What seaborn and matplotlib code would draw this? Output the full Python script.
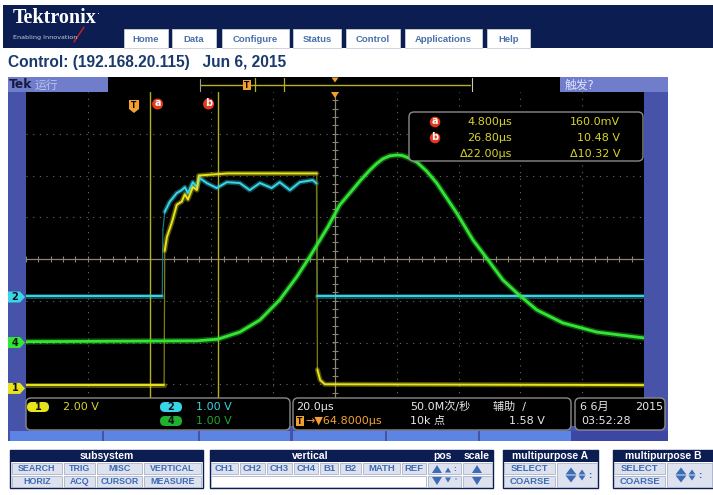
import numpy as np
import pandas as pd
import matplotlib
matplotlib.use("Agg")
import matplotlib.pyplot as plt
import seaborn as sns
from matplotlib.patches import Rectangle, FancyBboxPatch, Polygon

# ---------------- data (time in µs, voltage in V) ----------------
ch1_t = [-35.2, 9.5, 9.7, 10.4, 12.0, 13.6, 15.2, 16.2, 17.2, 18.8, 20.1, 20.7,
         30.0, 45.0, 58.9, 59.1, 60.0, 61.5, 164.8]
ch1_v = [0.16, 0.16, 6.6, 7.25, 7.95, 8.8, 8.95, 9.3, 9.05, 9.65, 9.5, 10.2,
         10.3, 10.3, 10.3, 0.9, 0.4, 0.2, 0.16]

ch2_t = [-35.2, 8.9, 9.1, 9.7, 11.3, 12.3, 13.6, 15.2, 16.2, 17.2, 18.8, 20.1,
         21.0, 23.3, 26.5, 29.8, 34.0, 37.2, 40.5, 44.3, 46.9, 50.2, 53.4, 57.6,
         58.8, 59.0, 164.8]
ch2_v = [0.02, 0.02, 1.6, 2.04, 2.28, 2.37, 2.49, 2.56, 2.63, 2.49, 2.75, 2.63,
         2.85, 2.73, 2.61, 2.75, 2.73, 2.56, 2.73, 2.61, 2.75, 2.56, 2.75, 2.80,
         2.72, 0.02, 0.02]

ch4_t = [-35.2, 20.0, 26.9, 34.0, 40.5, 46.9, 52.4, 56.6, 62.5, 66.3, 69.6, 73.0,
         76.1, 78.2, 80.3, 82.5, 84.8, 86.5, 88.0, 91.3, 94.5, 97.7, 104.2, 109.4,
         113.9, 119.1, 123.6, 130.1, 138.5, 149.5, 157.0, 164.8]
ch4_v = [0.02, 0.04, 0.08, 0.25, 0.54, 1.02, 1.57, 2.05, 2.77, 3.29, 3.58, 3.88,
         4.13, 4.28, 4.40, 4.47, 4.49, 4.48, 4.44, 4.32, 4.10, 3.82, 3.10, 2.46,
         2.02, 1.50, 1.19, 0.78, 0.47, 0.25, 0.18, 0.11]

ch_names = ["1", "2", "4"]
ch_scale_labels = ["2.00 V", "1.00 V", "1.00 V"]
ch_scale = [2.0, 1.0, 1.0]          # V/div
ch_offset = [-3.1, -0.91, -2.0]     # ground position in divisions

cursor_t = [4.8, 26.8]
cursor_rows = [("a", "4.800µs", "160.0mV"), ("b", "26.80µs", "10.48 V"),
               ("", "Δ22.00µs", "Δ10.32 V")]
time_per_div = 20.0
h_delay = 64.8

nav_tabs = ["Home", "Data", "Configure", "Status", "Control", "Applications", "Help"]
subsystem_row1 = ["SEARCH", "TRIG", "MISC", "VERTICAL"]
subsystem_row2 = ["HORIZ", "ACQ", "CURSOR", "MEASURE"]
vertical_btns = ["CH1", "CH2", "CH3", "CH4", "B1", "B2", "MATH", "REF"]

# ---------------- style ----------------
sns.set_style("dark")
plt.rcParams['font.family'] = ['DejaVu Sans', 'Noto Sans CJK SC']

W, H = 713, 495
fig = plt.figure(figsize=(W / 100, H / 100), dpi=100)
fig.patch.set_facecolor("white")

bg = fig.add_axes([0, 0, 1, 1], zorder=1)
bg.set_xlim(0, W); bg.set_ylim(H, 0); bg.axis("off")

NAVY = "#0c1d52"
FRAME = "#4753a8"
LIGHT = "#6f7dcb"
YEL = "#e8e41c"
CYA = "#38d6e8"
GRN = "#34e634"
ORG = "#f2a030"
RED = "#e5391b"
TY = "#d8d42a"


def rect(ax, x0, y0, x1, y1, fc, ec="none", lw=0, z=1):
    ax.add_patch(Rectangle((x0, y0), x1 - x0, y1 - y0, fc=fc, ec=ec, lw=lw, zorder=z))


def rbox(ax, x0, y0, x1, y1, fc, ec, r=4, lw=1.0, z=2):
    ax.add_patch(FancyBboxPatch((x0, y0), x1 - x0, y1 - y0,
                                boxstyle=f"round,pad=0,rounding_size={r}",
                                fc=fc, ec=ec, lw=lw, zorder=z))


def txt(ax, x, y, s, size, color, ha="left", va="center", weight="normal", z=5, family=None):
    kw = {}
    if family:
        kw["family"] = family
    ax.text(x, y, s, fontsize=size, color=color, ha=ha, va=va,
            fontweight=weight, zorder=z, **kw)


def tri(ax, cx, cy, w, h, up, color, z=5):
    if up:
        pts = [(cx - w / 2, cy + h / 2), (cx + w / 2, cy + h / 2), (cx, cy - h / 2)]
    else:
        pts = [(cx - w / 2, cy - h / 2), (cx + w / 2, cy - h / 2), (cx, cy + h / 2)]
    ax.add_patch(Polygon(pts, closed=True, fc=color, ec="none", zorder=z))


# ---------------- web page header ----------------
rect(bg, 3, 5, W, 48, NAVY)
txt(bg, 13, 18, "Tektronix", 14.5, "white", weight="bold",
    family=["Liberation Serif", "DejaVu Serif"])
txt(bg, 97, 14, "·", 7, "white")
txt(bg, 13, 38, "Enabling Innovation", 4.6, "#c8cde0")
bg.plot([74, 84], [42, 27], color="#d02020", lw=1.0, zorder=4)

tab_x = [(124, 168), (172, 216), (222, 289), (293, 341), (346, 400), (405, 482), (487, 530)]
for (x0, x1), lab in zip(tab_x, nav_tabs):
    rect(bg, x0, 29, x1, 48, "white", ec="#c8ccd8", lw=0.6, z=2)
    txt(bg, (x0 + x1) / 2, 39.5, lab, 6.8, "#4a70aa", ha="center", weight="bold",
        family=["Liberation Sans", "DejaVu Sans"])

txt(bg, 8, 62, "Control: (192.168.20.115)   Jun 6, 2015", 11.2, "#1a3a6c",
    weight="bold", family=["Liberation Sans", "DejaVu Sans"])

# ---------------- scope frame ----------------
rect(bg, 8, 77, 668, 441, FRAME)
rect(bg, 8, 77, 108, 92, LIGHT, z=2)
txt(bg, 9, 85, "Tek", 8.8, "#161a40", weight="bold", z=6)
txt(bg, 35, 85, "运行", 8.5, "#b9c2f0", z=6)
rect(bg, 108, 77, 560, 92, "black", z=2)
rect(bg, 560, 77, 668, 92, LIGHT, z=2)
txt(bg, 565, 85, "触发?", 8.5, "#dde2ff", z=6)
# record view
bg.plot([200, 470], [85, 85], color="#b8b020", lw=1.0, zorder=4)
for xv in [255, 284]:
    bg.plot([xv, xv], [78, 92], color="#b8b020", lw=0.9, zorder=4)
bg.plot([200, 200], [79, 92], color="#9a9a9a", lw=0.8, zorder=4)
bg.plot([472, 472], [78, 92], color="#c8c8c8", lw=0.8, zorder=4)
rect(bg, 243, 80, 251, 90, ORG, z=5)
txt(bg, 247, 85, "T", 5.5, "black", ha="center", weight="bold", z=6)
tri(bg, 335, 80, 7, 5, False, ORG)

# bottom tab strip
for x0, x1 in [(10, 102), (104, 198), (200, 290), (293, 385), (387, 478), (480, 571)]:
    rect(bg, x0, 431, x1, 441, "#5b84e4", z=2)
rect(bg, 571, 431, 668, 441, "#3b47a2", z=2)

# ---------------- graticule axes ----------------
ax = fig.add_axes([26 / W, 1 - 426 / H, 618 / W, 334 / H], zorder=2)
ax.set_facecolor("black")
for sp in ax.spines.values():
    sp.set_visible(False)
ax.set_xticks([]); ax.set_yticks([])
x_left = h_delay - 5 * time_per_div
x_right = h_delay + 5 * time_per_div
ax.set_xlim(x_left, x_right)
ax.set_ylim(-4, 4)

for k in range(1, 10):
    if k != 5:
        ax.axvline(x_left + time_per_div * k, color="#6a6a6a", lw=0.8, ls=(0, (1.0, 5)), zorder=1)
for j in range(-3, 4):
    if j != 0:
        ax.axhline(j, color="#6a6a6a", lw=0.8, ls=(0, (1.0, 5)), zorder=1)
ax.axhline(0, color="#8e8674", lw=0.9, zorder=1)
ax.axvline(h_delay, color="#8e8674", lw=0.9, zorder=1)
minor_x = np.arange(x_left, x_right + 0.01, time_per_div / 5)
ax.vlines(minor_x, -0.07, 0.07, color="#8e8674", lw=0.8, zorder=1)
minor_y = np.arange(-4, 4.01, 0.2)
ax.hlines(minor_y, h_delay - 1.0, h_delay + 1.0, color="#8e8674", lw=0.8, zorder=1)

for ct in cursor_t:
    ax.axvline(ct, color="#b5ae1e", lw=1.0, zorder=2)

px_per_us = 618 / (x_right - x_left)
px_per_div = 334 / 8.0


def dim(col, f=0.55):
    c = np.array(matplotlib.colors.to_rgb(col))
    return tuple(c * f)


traces = [(ch2_t, ch2_v, 1, CYA, 1.4), (ch1_t, ch1_v, 0, YEL, 1.4), (ch4_t, ch4_v, 2, GRN, 2.0)]
for tt, vv, idx, col, lw in traces:
    df = pd.DataFrame({"t": tt, "div": np.array(vv) / ch_scale[idx] + ch_offset[idx]})
    # split into slow (noisy, bright) pieces and fast edges (dim, thin)
    dx = np.diff(df["t"].values) * px_per_us
    dy = np.abs(np.diff(df["div"].values)) * px_per_div
    steep = dy > 8 * np.maximum(dx, 1e-6)
    start = 0
    pieces = []
    for i, s in enumerate(steep):
        if s:
            if i > start:
                pieces.append(("slow", start, i))
            pieces.append(("edge", i, i + 1))
            start = i + 1
    if start < len(df) - 1:
        pieces.append(("slow", start, len(df) - 1))
    for kind, a, b in pieces:
        seg = df.iloc[a:b + 1]
        if kind == "slow":
            sns.lineplot(data=seg, x="t", y="div", ax=ax, color=col, lw=lw + 2.2, alpha=0.35,
                         sort=False, estimator=None, zorder=3)
            sns.lineplot(data=seg, x="t", y="div", ax=ax, color=col, lw=lw,
                         sort=False, estimator=None, zorder=4)
        else:
            sns.lineplot(data=seg, x="t", y="div", ax=ax, color=dim(col), lw=0.9,
                         sort=False, estimator=None, zorder=3)
ax.set_xlabel(""); ax.set_ylabel("")
ax.set_xlim(x_left, x_right); ax.set_ylim(-4, 4)

# ---------------- overlay (pixel coordinates) ----------------
ov = fig.add_axes([0, 0, 1, 1], zorder=3)
ov.set_xlim(0, W); ov.set_ylim(H, 0); ov.axis("off")
ov.patch.set_alpha(0)

tri(ov, 335, 95, 8, 6, False, ORG)


def tx(t):
    return 26 + (t - x_left) * px_per_us


ov.add_patch(Polygon([(129, 100), (139, 100), (139, 109), (134, 113), (129, 109)],
                     closed=True, fc=ORG, ec="none", zorder=5))
txt(ov, 134, 105.5, "T", 5.5, "black", ha="center", weight="bold", z=6)
for lab, ct in zip(["a", "b"], cursor_t):
    cx = tx(ct) + (8 if lab == "a" else -9)
    ov.add_patch(plt.Circle((cx, 104), 5.5, fc=RED, ec="none", zorder=5))
    txt(ov, cx, 103.5, lab, 7, "white", ha="center", weight="bold", z=6)

for idx, (name, col) in enumerate(zip(ch_names, [YEL, CYA, GRN])):
    yy = 259 - ch_offset[idx] * px_per_div
    ov.add_patch(Polygon([(8, yy - 5.5), (20, yy - 5.5), (25, yy), (20, yy + 5.5), (8, yy + 5.5)],
                         closed=True, fc=col, ec="none", zorder=5))
    txt(ov, 15, yy, name, 7, "#101010", ha="center", weight="bold", z=6)

# cursor readout box
rbox(ov, 409, 112, 643, 161, "black", "#8a8a8a", r=5, lw=1.0)
for i, (lab, tv, vv) in enumerate(cursor_rows):
    yy = 122 + i * 16
    if lab:
        ov.add_patch(plt.Circle((435, yy), 5.3, fc=RED, ec="none", zorder=5))
        txt(ov, 435, yy - 0.5, lab, 7, "white", ha="center", weight="bold", z=6)
    txt(ov, 512, yy, tv, 8, TY, ha="right")
    txt(ov, 620, yy, vv, 8, TY, ha="right")

# info bar
rbox(ov, 26, 398, 290, 430, "black", "#8a8a8a", r=5)
rbox(ov, 293, 398, 571, 430, "black", "#8a8a8a", r=5)
rbox(ov, 575, 398, 665, 430, "black", "#8a8a8a", r=5)

badge_pos = [(38, 407), (171, 407), (171, 421)]
badge_col = [YEL, CYA, "#22b030"]
text_col = [TY, CYA, "#1fa82a"]
for idx in range(3):
    bx, by = badge_pos[idx]
    rbox(ov, bx - 11, by - 5, bx + 11, by + 5, badge_col[idx], "none", r=5, lw=0, z=4)
    txt(ov, bx, by, ch_names[idx], 7, "#101010", ha="center", weight="bold", z=6)
    txt(ov, bx + 25, by, ch_scale_labels[idx], 8, text_col[idx])

txt(ov, 296, 407, "20.0µs", 8, "#e8e8e8")
rect(ov, 296, 416, 304, 426, ORG, z=4)
txt(ov, 300, 421, "T", 5.5, "black", ha="center", weight="bold", z=6)
txt(ov, 305, 421, "→▼64.8000µs", 8, ORG)
txt(ov, 410, 407, "50.0M次/秒", 8, "#e8e8e8")
txt(ov, 493, 407, "辅助  /", 8, "#e8e8e8")
txt(ov, 410, 421, "10k 点", 8, "#e8e8e8")
txt(ov, 545, 421, "1.58 V", 8, "#e8e8e8", ha="right")
txt(ov, 580, 407, "6 6月", 8, "#e8e8e8")
txt(ov, 663, 407, "2015", 8, "#e8e8e8", ha="right")
txt(ov, 581, 421, "03:52:28", 8, "#e8e8e8")

# ---------------- bottom control panel ----------------
BTN = "#dde2ee"
BTXT = "#3d6cb6"
PF = ["Liberation Sans", "DejaVu Sans"]


def panel(x0, x1, title, tx_=None):
    rect(bg, x0, 450, x1, 488, "white", ec=NAVY, lw=1.0, z=2)
    rect(bg, x0, 450, x1, 462, NAVY, z=3)
    if title:
        txt(bg, (x0 + x1) / 2 if tx_ is None else tx_, 456, title, 7.5, "white",
            ha="center", weight="bold", family=PF, z=6)


def btn(x0, x1, y0, y1, label, size=6.4):
    rect(bg, x0, y0, x1, y1, BTN, ec="#aab2c8", lw=0.6, z=4)
    if label:
        txt(bg, (x0 + x1) / 2, (y0 + y1) / 2 + 0.3, label, size, BTXT, ha="center",
            weight="bold", family=PF, z=6)


panel(10, 203, "subsystem")
sub_x = [(12, 62), (64, 95), (97, 142), (144, 201)]
for (x0, x1), l1, l2 in zip(sub_x, subsystem_row1, subsystem_row2):
    btn(x0, x1, 463, 474, l1)
    btn(x0, x1, 476, 487, l2)

panel(210, 493, "vertical", tx_=310)
txt(bg, 442, 456, "pos", 7.5, "white", ha="center", weight="bold", family=PF, z=6)
txt(bg, 477, 456, "scale", 7.5, "white", ha="center", weight="bold", family=PF, z=6)
vb_x = [(211, 238), (240, 265), (267, 292), (294, 318), (320, 338), (340, 361), (363, 400), (402, 426)]
for (x0, x1), lab in zip(vb_x, vertical_btns):
    btn(x0, x1, 463, 474, lab, size=6.8)
rect(bg, 211, 476, 426, 487, "white", ec="#aab2c8", lw=0.6, z=4)
btn(428, 461, 463, 474, "")
btn(428, 461, 476, 487, "")
btn(463, 492, 463, 474, "")
btn(463, 492, 476, 487, "")
tri(bg, 437, 469, 10, 8, True, BTXT, z=6)
tri(bg, 448, 470, 6, 5, True, BTXT, z=6)
tri(bg, 437, 481, 10, 8, False, BTXT, z=6)
tri(bg, 448, 480, 6, 5, False, BTXT, z=6)
txt(bg, 455, 469, ":", 5, BTXT, ha="center", weight="bold", z=6)
txt(bg, 455, 480, "'", 5, BTXT, ha="center", weight="bold", z=6)
tri(bg, 477, 469, 10, 8, True, BTXT, z=6)
tri(bg, 477, 481, 10, 8, False, BTXT, z=6)

for x0, x1, title in [(503, 598, "multipurpose A"), (613, 713, "multipurpose B")]:
    panel(x0, x1, title)
    sx1 = x0 + 52
    btn(x0 + 1, sx1, 463, 474, "SELECT", size=6.8)
    btn(x0 + 1, sx1, 476, 487, "COARSE", size=6.8)
    btn(sx1 + 2, x1 - 1, 463, 487, "")
    ac = sx1 + 16
    tri(bg, ac, 471, 11, 7, True, BTXT, z=6)
    tri(bg, ac, 479, 11, 7, False, BTXT, z=6)
    tri(bg, ac + 11, 472, 7, 5, True, BTXT, z=6)
    tri(bg, ac + 11, 478, 7, 5, False, BTXT, z=6)
    txt(bg, ac + 19, 475, ":", 6, BTXT, ha="center", weight="bold", z=6)

fig.savefig("out.png", dpi=100)
